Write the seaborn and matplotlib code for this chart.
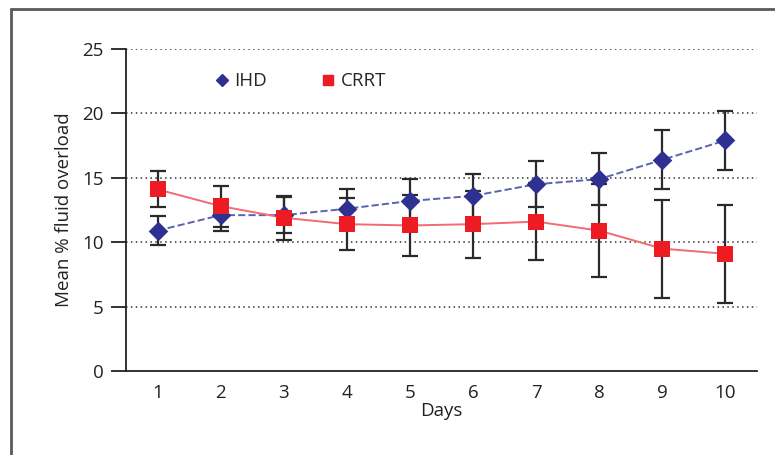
import pandas as pd
import matplotlib
matplotlib.use("Agg")
import matplotlib.pyplot as plt
import seaborn as sns
from matplotlib.lines import Line2D

sns.set_style("white")
plt.rcParams['font.family'] = ['Open Sans', 'DejaVu Sans']

days = [1, 2, 3, 4, 5, 6, 7, 8, 9, 10]
ihd_mean = [10.9, 12.1, 12.1, 12.6, 13.2, 13.6, 14.5, 14.9, 16.4, 17.9]
ihd_sd = [1.1, 1.2, 1.4, 1.5, 1.7, 1.7, 1.8, 2.0, 2.3, 2.3]
crrt_mean = [14.1, 12.8, 11.9, 11.4, 11.3, 11.4, 11.6, 10.9, 9.5, 9.1]
crrt_sd = [1.4, 1.6, 1.7, 2.0, 2.4, 2.6, 3.0, 3.6, 3.8, 3.8]
y_ticks = [0, 5, 10, 15, 20, 25]

df = pd.DataFrame({
    "Days": days * 2,
    "value": ihd_mean + crrt_mean,
    "sd": ihd_sd + crrt_sd,
    "group": ["IHD"] * 10 + ["CRRT"] * 10,
})

line_col = {"IHD": "#5b63b0", "CRRT": "#f26b72"}
mark_col = {"IHD": "#2e3192", "CRRT": "#ed1c24"}
markers = {"IHD": "D", "CRRT": "s"}
fs = 13.5

fig = plt.figure(figsize=(7.75, 4.55), dpi=100)
ax = fig.add_axes([0.1626, 0.1846, 0.8142, 0.7077])

# dotted grid
for v in y_ticks[1:]:
    ax.axhline(v, color="#333333", lw=1.1, ls=(0, (1, 2.2)), zorder=1)

# error bars
for g in ["IHD", "CRRT"]:
    d = df[df.group == g]
    ax.errorbar(d["Days"], d["value"], yerr=d["sd"], fmt="none",
                ecolor="#2a2a2a", elinewidth=1.6, capsize=6, capthick=1.6, zorder=2)

# lines
sns.lineplot(data=df[df.group == "IHD"], x="Days", y="value", ax=ax,
             color=line_col["IHD"], lw=1.4, dashes=(5, 3), linestyle="--", zorder=3)
sns.lineplot(data=df[df.group == "CRRT"], x="Days", y="value", ax=ax,
             color=line_col["CRRT"], lw=1.4, zorder=3)
# markers
for g in ["IHD", "CRRT"]:
    d = df[df.group == g]
    sns.scatterplot(x=d["Days"], y=d["value"], ax=ax, marker=markers[g],
                    color=mark_col[g], s=100 if g == "IHD" else 120,
                    edgecolor=mark_col[g], linewidth=0, zorder=4)

ax.set_xlim(0.5, 10.5)
ax.set_ylim(0, 25)
ax.set_yticks(y_ticks)
ax.set_xticks(days)
ax.set_xticks([d + 0.5 for d in [0] + days], minor=True)
ax.tick_params(axis="x", which="major", length=0, pad=9, labelsize=fs, colors="#222222")
ax.tick_params(axis="x", which="minor", length=9, width=1.3, color="#222222", direction="out")
ax.tick_params(axis="y", length=11, width=1.3, pad=5, labelsize=fs, colors="#222222",
               direction="out", left=True)
ax.set_xlabel("Days", fontsize=fs, color="#222222", labelpad=0)
ax.set_ylabel("Mean % fluid overload", fontsize=fs, color="#222222", labelpad=7)
for s in ["top", "right"]:
    ax.spines[s].set_visible(False)
for s in ["left", "bottom"]:
    ax.spines[s].set_color("#222222")
    ax.spines[s].set_linewidth(1.3)

handles = [Line2D([], [], marker="D", ls="none", color=mark_col["IHD"], markersize=6),
           Line2D([], [], marker="s", ls="none", color=mark_col["CRRT"], markersize=7)]
ax.legend(handles, ["IHD", "CRRT"], loc="center left", bbox_to_anchor=(0.11, 0.9),
          ncol=2, frameon=False, fontsize=fs, handletextpad=0.15, columnspacing=2.8,
          handlelength=1.0)

# page border (top and left)
fig.add_artist(Line2D([0.0145, 1.0], [0.981, 0.981], transform=fig.transFigure,
                      color="#5a5a5a", lw=2))
fig.add_artist(Line2D([0.0145, 0.0145], [0.0, 0.981], transform=fig.transFigure,
                      color="#5a5a5a", lw=2))

fig.savefig("out.png", dpi=100)
